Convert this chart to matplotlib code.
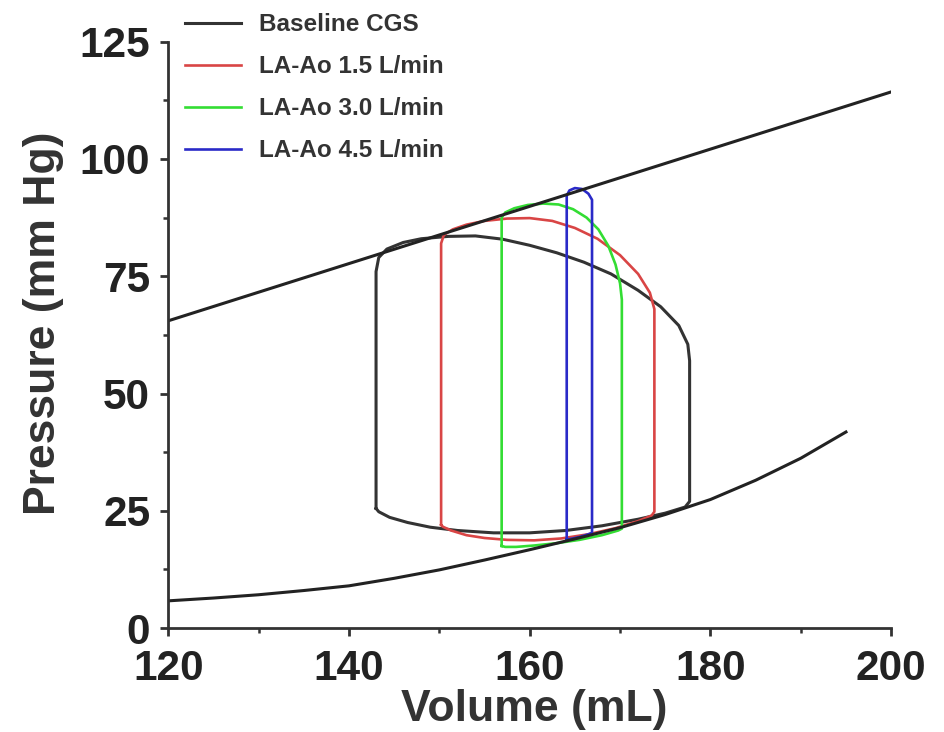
import matplotlib.pyplot as plt

plt.rcParams['font.family'] = ['Liberation Sans', 'DejaVu Sans']
plt.rcParams['font.weight'] = 'bold'

# end-systolic pressure-volume line
espvr_v = [120, 200]
espvr_p = [65.5, 114.3]

# end-diastolic pressure-volume curve
edpvr_v = [120, 125, 130, 135, 140, 145, 150, 155, 160, 165, 170, 175, 180, 185, 190, 195]
edpvr_p = [5.8, 6.4, 7.1, 8.0, 9.0, 10.6, 12.4, 14.5, 16.7, 19.0, 21.4, 24.2, 27.4, 31.5, 36.2, 41.8]

# pressure-volume loops
base_v = [143.0, 143.0, 143.3, 144.2, 146, 148, 151, 154, 157, 160, 163, 166, 169, 172,
          174.5, 176.5, 177.5, 177.7, 177.7, 177.2, 175, 172, 168, 164, 160, 156, 152,
          149, 146.5, 144.5, 143.3, 143.0]
base_p = [25.5, 76, 79, 80.8, 82.2, 83, 83.5, 83.6, 82.9, 81.6, 80, 78, 75.5, 72,
          68.5, 64.5, 60.5, 57, 27, 25.8, 24.5, 23.2, 21.8, 20.8, 20.3, 20.3, 20.8,
          21.5, 22.5, 23.6, 24.8, 25.5]

la15_v = [150.2, 150.2, 150.5, 151.5, 153, 155, 157.5, 160, 162.5, 165, 167.5, 170, 172,
          173.3, 173.8, 173.8, 173.5, 172, 169.5, 166.5, 163.5, 160.5, 157.5, 155, 153,
          151.3, 150.4, 150.2]
la15_p = [22, 82, 83.8, 85, 86, 86.8, 87.3, 87.4, 86.8, 85.3, 83, 79.5, 75.5,
          71.5, 68, 24.8, 24, 22.8, 21.3, 20, 19.1, 18.7, 18.8, 19.2, 19.8,
          20.8, 21.6, 22]

la30_v = [156.9, 156.9, 157.3, 158.3, 159.8, 161.5, 163.2, 164.8, 166.3, 167.6, 168.7,
          169.5, 170.0, 170.2, 170.2, 169.8, 168, 165.5, 163, 160.5, 158.5, 157.3, 156.9]
la30_p = [17.5, 87.5, 88.6, 89.5, 90.2, 90.5, 90.3, 89.3, 87.5, 85, 81.5,
          77.5, 73.5, 70, 21.2, 20.8, 19.8, 18.8, 18.1, 17.6, 17.3, 17.3, 17.5]

la45_v = [164.1, 164.1, 164.4, 165.0, 165.8, 166.5, 166.9, 166.9, 166.5, 165.5, 164.5, 164.1]
la45_p = [18.9, 92.2, 93.3, 93.8, 93.6, 92.6, 91.3, 20.3, 20.0, 19.4, 19.0, 18.9]

fig = plt.figure(figsize=(9.45, 7.32), dpi=100)
ax = fig.add_axes([0.178, 0.142, 0.765, 0.801])

ax.plot(base_v, base_p, color='#333333', lw=2.2, label='Baseline CGS')
ax.plot(la15_v, la15_p, color='#d94545', lw=1.9, label='LA-Ao 1.5 L/min')
ax.plot(la30_v, la30_p, color='#33dd33', lw=1.9, label='LA-Ao 3.0 L/min')
ax.plot(la45_v, la45_p, color='#2a2ac8', lw=1.9, label='LA-Ao 4.5 L/min')
ax.plot(espvr_v, espvr_p, color='#222222', lw=2.2)
ax.plot(edpvr_v, edpvr_p, color='#222222', lw=2.2)

ax.set_xlim(120, 200)
ax.set_ylim(0, 125)
ax.set_xticks([120, 140, 160, 180, 200])
ax.set_xticks([130, 150, 170, 190], minor=True)
ax.set_yticks([0, 25, 50, 75, 100, 125])
ax.set_yticks([12.5, 37.5, 62.5, 87.5, 112.5], minor=True)

for side in ['top', 'right']:
    ax.spines[side].set_visible(False)
for side in ['left', 'bottom']:
    ax.spines[side].set_linewidth(2.0)
    ax.spines[side].set_color('#333333')

ax.tick_params(which='major', direction='out', length=6, width=2.0, color='#333333',
               labelsize=30.5, labelcolor='#222222')
ax.tick_params(axis='x', which='major', pad=9)
ax.tick_params(axis='y', which='major', pad=7)
ax.tick_params(which='minor', direction='out', length=3.5, width=1.8, color='#333333')
ax.set_xlabel('Volume (mL)', fontsize=32, fontweight='bold', color='#333333', labelpad=0)
ax.set_ylabel('Pressure (mm Hg)', fontsize=32, fontweight='bold', color='#333333', labelpad=11)
ax.xaxis.label.set_x(0.507)
ax.yaxis.label.set_y(0.52)

fig.legend(loc='upper left', bbox_to_anchor=(0.196, 0.982), frameon=False,
           prop={'size': 17.5, 'weight': 'bold'}, labelcolor='#333333',
           handlelength=2.3, handletextpad=0.75, labelspacing=0.78,
           borderpad=0, borderaxespad=0)

fig.savefig('out.png', dpi=100)
